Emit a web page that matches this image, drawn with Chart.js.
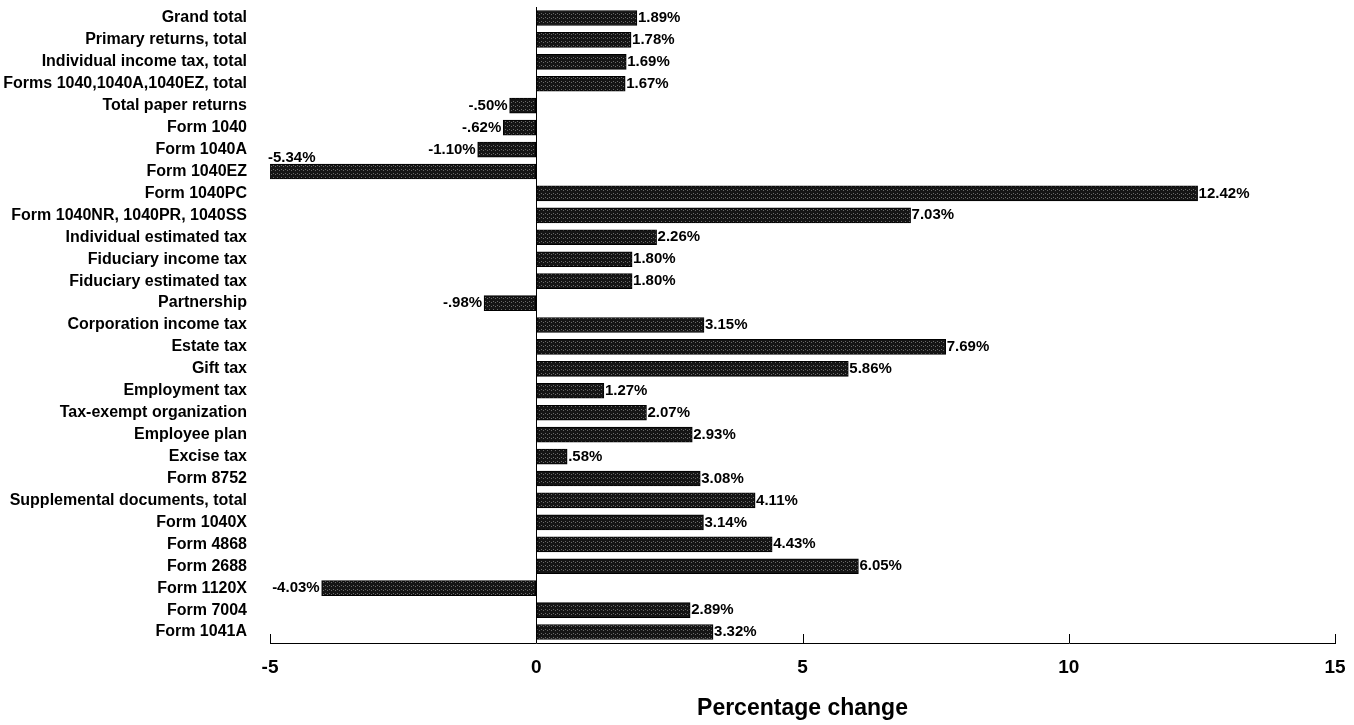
<!DOCTYPE html>
<html>
<head>
<meta charset="utf-8">
<script src="https://cdn.jsdelivr.net/npm/chart.js@4.4.1/dist/chart.umd.min.js"></script>
<style>
  html, body { margin: 0; padding: 0; background: #fff; }
  #wrap { width: 1354px; height: 725px; }
</style>
</head>
<body>
<div id="wrap"><canvas id="chrt"></canvas></div>
<script>
// categories, top to bottom
var categories = [
  'Grand total', 'Primary returns, total', 'Individual income tax, total',
  'Forms 1040,1040A,1040EZ, total', 'Total paper returns', 'Form 1040',
  'Form 1040A', 'Form 1040EZ', 'Form 1040PC', 'Form 1040NR, 1040PR, 1040SS',
  'Individual estimated tax', 'Fiduciary income tax', 'Fiduciary estimated tax',
  'Partnership', 'Corporation income tax', 'Estate tax', 'Gift tax',
  'Employment tax', 'Tax-exempt organization', 'Employee plan', 'Excise tax',
  'Form 8752', 'Supplemental documents, total', 'Form 1040X', 'Form 4868',
  'Form 2688', 'Form 1120X', 'Form 7004', 'Form 1041A'
]
// percentage change
var pctChange = [
  1.89, 1.78, 1.69, 1.67, -0.50, -0.62, -1.10, -5.34, 12.42, 7.03,
  2.26, 1.80, 1.80, -0.98, 3.15, 7.69, 5.86, 1.27, 2.07, 2.93,
  0.58, 3.08, 4.11, 3.14, 4.43, 6.05, -4.03, 2.89, 3.32
]
var xTicks = [-5, 0, 5, 10, 15]

// halftone-ish fill for the bars
function barPattern() {
  var c = document.createElement('canvas')
  c.width = 4; c.height = 4
  var g = c.getContext('2d')
  g.fillStyle = '#151515'
  g.fillRect(0, 0, 4, 4)
  g.fillStyle = '#6a6a6a'
  g.fillRect(1, 1, 1, 1)
  g.fillRect(3, 2, 1, 1)
  return g.createPattern(c, 'repeat')
}

function fmtPct(v) {
  var s = Math.abs(v).toFixed(2)
  if (s.charAt(0) === '0') s = s.substr(1)
  return (v < 0 ? '-' : '') + s + '%'
}

const FONT = '"Liberation Sans", Arial, sans-serif'

// value labels at bar ends, plus upward ticks on x axis
const BarLabels = {
  id: 'BarLabels',
  afterDatasetsDraw(chart) {
    const {ctx, chartArea: {left, top, bottom}} = chart
    const meta = chart.getDatasetMeta(0)
    const xs = chart.scales.x
    ctx.save()
    ctx.font = 'bold 15px ' + FONT
    ctx.fillStyle = '#000'
    meta.data.forEach((bar, i) => {
      var v = pctChange[i]
      var txt = fmtPct(v)
      if (v < xs.min) {
        // bar runs off the axis: label sits above its left end
        ctx.textAlign = 'left'
        ctx.textBaseline = 'bottom'
        ctx.fillText(txt, left - 2, bar.y - bar.height / 2 + 1)
      } else if (v < 0) {
        ctx.textAlign = 'right'
        ctx.textBaseline = 'middle'
        ctx.fillText(txt, bar.x - 2, bar.y)
      } else {
        ctx.textAlign = 'left'
        ctx.textBaseline = 'middle'
        ctx.fillText(txt, bar.x + 1, bar.y)
      }
    })
    // tick marks pointing up from the axis
    ctx.strokeStyle = '#000'
    ctx.lineWidth = 1
    xTicks.forEach(t => {
      if (t === 0) return
      var px = Math.round(xs.getPixelForValue(t)) + 0.5
      ctx.beginPath()
      ctx.moveTo(px, bottom)
      ctx.lineTo(px, bottom - 9)
      ctx.stroke()
    })
    ctx.restore()
  }
}

const _data = {
  labels: categories,
  datasets: [{
    data: pctChange,
    backgroundColor: barPattern(),
    borderColor: '#000',
    borderWidth: 1,
    borderSkipped: false,
    barThickness: 15
  }]
}

const _config = {
  type: 'bar',
  data: _data,
  plugins: [BarLabels],
  options: {
    indexAxis: 'y',
    responsive: true,
    maintainAspectRatio: false,
    animation: false,
    layout: { padding: { left: 0, right: 19, top: 7, bottom: 0 } },
    plugins: { legend: { display: false }, tooltip: { enabled: false } },
    scales: {
      x: {
        min: -5,
        max: 15,
        afterBuildTicks: (scale) => { scale.ticks = xTicks.map(v => ({value: v})) },
        afterFit: (scale) => {
          scale.height = 82
          scale.paddingLeft = 0
          scale.paddingRight = 0
        },
        border: { display: true, color: '#000', width: 1 },
        grid: {
          drawTicks: false,
          color: (c) => (c.tick && c.tick.value === 0) ? '#000' : 'rgba(0,0,0,0)',
          lineWidth: 1
        },
        ticks: {
          color: '#000',
          padding: 13,
          font: { family: FONT, size: 19, weight: 'bold' }
        },
        title: {
          display: true,
          text: 'Percentage change',
          color: '#000',
          padding: { top: 12, bottom: 3 },
          font: { family: FONT, size: 23, weight: 'bold' }
        }
      },
      y: {
        afterFit: (scale) => {
          scale.width = 270
          scale.paddingTop = 0
          scale.paddingBottom = 0
        },
        border: { display: false },
        grid: { display: false, drawTicks: false },
        ticks: {
          color: '#000',
          padding: 23,
          autoSkip: false,
          font: { family: FONT, size: 16, weight: 'bold' }
        }
      }
    }
  }
}

const myChart = new Chart(document.getElementById('chrt'), _config)
</script>
</body>
</html>
